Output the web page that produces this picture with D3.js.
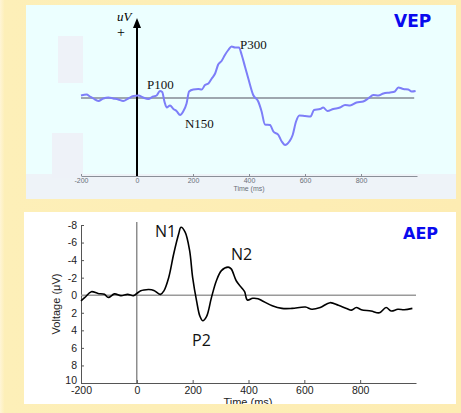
<!DOCTYPE html>
<html>
<head>
<meta charset="utf-8">
<script src="https://cdn.jsdelivr.net/npm/d3@7"></script>
<style>
  html, body { margin: 0; padding: 0; background: #fdefb8; }
  svg { display: block; }
</style>
</head>
<body>
<div id="chart"></div>
<script>
/* VEP trace (ms, arbitrary uV, positive up) */
const vepTime = [-200, -180, -168, -156, -138, -120, -102, -85, -67, -49, -31, -13, 5, 22, 40, 58, 70, 82, 90, 98, 106, 118, 130, 141, 154, 165, 177, 186, 201, 219, 231, 243, 255, 267, 279, 290, 302, 314, 326, 338, 350, 364, 374, 386, 398, 415, 433, 445, 457, 475, 487, 505, 517, 529, 544, 556, 568, 580, 600, 620, 632, 654, 665, 680, 701, 725, 743, 761, 784, 808, 826, 844, 862, 880, 904, 921, 933, 951, 969, 981, 995]
const vepValue = [0.5, 0.7, 0.3, -0.1, -0.6, -0.1, 0.1, -0.1, -0.3, -0.6, -0.1, 0.4, 0.5, 0.1, -0.2, 0.3, 0.5, 1.4, 1.2, -0.7, -1.9, -1.5, -2.2, -2.6, -3.4, -2.7, -1.1, 1.3, 1.7, 1.8, 1.7, 2.6, 2.9, 3.9, 4.9, 6.7, 7.4, 8.6, 9.6, 10.3, 10.1, 10.1, 8.6, 6.2, 3.8, 0.6, -0.7, -2.7, -5.3, -5.4, -6.7, -7.4, -8.7, -9.4, -8.7, -7.4, -4.7, -3.5, -3.6, -3.7, -2.4, -2.2, -1.9, -2.6, -2.2, -1.9, -1.4, -1.5, -0.9, -0.7, -0.1, 0.6, 0.5, 0.9, 1.1, 1.3, 2.1, 1.8, 1.7, 1.3, 1.4]
const vepPeaks = [
  { name: 'P100', t: 36, v: 1.8 },
  { name: 'N150', t: 171, v: -6 },
  { name: 'P300', t: 368, v: 9.8 }
]

/* AEP trace (ms, uV, negative up) */
const aepTime = [-200, -186, -163, -139, -116, -102, -80, -57, -33, -12, 0, 14, 26, 43, 61, 85, 97, 114, 132, 150, 158, 173, 189, 200, 214, 226, 236, 250, 267, 285, 303, 327, 338, 356, 374, 386, 396, 415, 434, 450, 485, 520, 556, 604, 627, 657, 692, 722, 751, 769, 786, 804, 839, 869, 893, 911, 935, 958, 987]
const aepValue = [0.65, 0.25, -0.4, -0.2, -0.1, 0.25, -0.15, 0.05, -0.1, 0.05, -0.2, -0.5, -0.6, -0.65, -0.55, -0.1, -0.5, -2.0, -4.7, -7.0, -7.75, -7.2, -5.1, -2.0, 0.65, 2.4, 2.9, 2.4, 0.3, -1.65, -2.8, -3.2, -3.0, -1.65, -0.9, -0.4, 0.55, 0.35, 0.4, 0.65, 1.2, 1.5, 1.5, 1.35, 1.6, 1.4, 0.85, 1.15, 1.5, 1.7, 1.4, 1.65, 1.8, 2.0, 1.4, 1.8, 1.6, 1.65, 1.5]
const aepPeaks = [
  { name: 'N1', t: 65, v: -6.6 },
  { name: 'N2', t: 337, v: -4.0 },
  { name: 'P2', t: 198, v: 5.8 }
]

const timeTicks = [-200, 0, 200, 400, 600, 800]
const voltTicks = [-8, -6, -4, -2, 0, 2, 4, 6, 8, 10]

const W = 461, H = 413

const svg = d3.select('#chart').append('svg')
  .attr('width', W)
  .attr('height', H)

/* Background */
const defs = svg.append('defs')
const grad = defs.append('linearGradient').attr('id', 'bg').attr('x1', 0).attr('x2', 1)
grad.append('stop').attr('offset', 0).attr('stop-color', '#fff5d6')
grad.append('stop').attr('offset', 0.01).attr('stop-color', '#fdefb8')
grad.append('stop').attr('offset', 1).attr('stop-color', '#fdecb2')
svg.append('rect').attr('width', W).attr('height', H).attr('fill', 'url(#bg)')

/* ---------- Top panel: VEP ---------- */
const vep = svg.append('g').attr('class', 'vep')
vep.append('rect').attr('x', 26).attr('y', 5).attr('width', 430).attr('height', 194).attr('fill', '#ecffff')
vep.append('rect').attr('x', 26).attr('y', 174).attr('width', 430).attr('height', 25).attr('fill', '#eef3f8')
vep.append('rect').attr('x', 58).attr('y', 36).attr('width', 25).attr('height', 47).attr('fill', '#eef2f8')
vep.append('rect').attr('x', 52).attr('y', 133).attr('width', 31).attr('height', 45).attr('fill', '#eef2f8')

const x1 = d3.scaleLinear().domain([-200, 1000]).range([81, 417])
const y1 = d3.scaleLinear().domain([-15.6, 16]).range([176, 18])

const xAxis1 = vep.append('g').attr('transform', `translate(0,${y1(-15.6)})`)
  .call(d3.axisBottom(x1).tickValues(timeTicks).tickFormat(d => String(d))
    .tickSizeInner(-2).tickSizeOuter(0).tickPadding(2))
xAxis1.select('.domain').attr('stroke', '#8a8f98')
xAxis1.selectAll('.tick line').attr('stroke', '#8a8f98')
xAxis1.selectAll('.tick text').attr('fill', '#6a6e78').attr('font-size', 7).attr('font-family', 'Liberation Sans, sans-serif')
vep.append('text')
  .attr('x', 249).attr('y', 191)
  .attr('text-anchor', 'middle')
  .attr('font-size', 7).attr('font-family', 'Liberation Sans, sans-serif').attr('fill', '#6a6e78')
  .text('Time (ms)')

/* baseline */
vep.append('line')
  .attr('x1', x1(-200)).attr('x2', x1(990))
  .attr('y1', y1(0)).attr('y2', y1(0))
  .attr('stroke', '#505060').attr('stroke-width', 1.2)

/* vertical arrow at t = 0 */
vep.append('line')
  .attr('x1', x1(0)).attr('x2', x1(0))
  .attr('y1', y1(-15.6)).attr('y2', y1(14))
  .attr('stroke', '#000').attr('stroke-width', 2)
vep.append('path')
  .attr('d', `M${x1(0)},${y1(16)}L${x1(0) - 4},${y1(14)}L${x1(0) + 4},${y1(14)}Z`)
  .attr('fill', '#000')
vep.append('text').attr('x', 117).attr('y', 21)
  .attr('font-family', 'Liberation Serif, serif').attr('font-style', 'italic').attr('font-size', 13)
  .text('uV')
vep.append('text').attr('x', 117).attr('y', 37)
  .attr('font-family', 'Liberation Serif, serif').attr('font-size', 14)
  .text('+')

const vepLine = d3.line()
  .x((d, i) => x1(vepTime[i]))
  .y(d => y1(d))
  .curve(d3.curveMonotoneX)
vep.append('path')
  .datum(vepValue)
  .attr('d', vepLine)
  .attr('fill', 'none')
  .attr('stroke', '#7d7ef8')
  .attr('stroke-width', 2)
  .attr('stroke-linejoin', 'round')

vep.selectAll('.peak').data(vepPeaks).join('text')
  .attr('class', 'peak')
  .attr('x', d => x1(d.t))
  .attr('y', d => y1(d.v))
  .attr('font-family', 'Liberation Serif, serif')
  .attr('font-size', 13)
  .attr('fill', '#111')
  .text(d => d.name)

vep.append('text').attr('x', 394).attr('y', 27)
  .attr('font-family', 'DejaVu Sans, sans-serif').attr('font-weight', 'bold').attr('font-size', 17)
  .attr('fill', '#0a0aee')
  .text('VEP')

/* ---------- Bottom panel: AEP ---------- */
const aep = svg.append('g').attr('class', 'aep')
defs.append('clipPath').attr('id', 'botclip')
  .append('rect').attr('x', 24).attr('y', 212).attr('width', 432).attr('height', 192)
aep.attr('clip-path', 'url(#botclip)')
aep.append('rect').attr('x', 24).attr('y', 212).attr('width', 432).attr('height', 192).attr('fill', '#ffffff')

const x2 = d3.scaleLinear().domain([-200, 1000]).range([81, 416])
const y2 = d3.scaleLinear().domain([-8, 10]).range([225, 383])

const axisFont = g => g.selectAll('.tick text')
  .attr('font-family', 'Liberation Sans, sans-serif').attr('font-size', 10.5).attr('fill', '#222')

const yAxis2 = aep.append('g').attr('transform', `translate(${x2(-200)},0)`)
  .call(d3.axisLeft(y2).tickValues(voltTicks).tickFormat(d => String(d))
    .tickSizeInner(-3).tickSizeOuter(0).tickPadding(4))
  .call(axisFont)
yAxis2.selectAll('.domain, .tick line').attr('stroke', '#555')
// the bottom label sits a touch high, as in the original, so it clears "-200"
yAxis2.selectAll('.tick text').filter(d => d === 10).attr('dy', '0.05em')

const xAxis2 = aep.append('g').attr('transform', `translate(0,${y2(10)})`)
  .call(d3.axisBottom(x2).tickValues(timeTicks).tickFormat(d => String(d))
    .tickSizeInner(-3).tickSizeOuter(0).tickPadding(4))
  .call(axisFont)
xAxis2.selectAll('.domain, .tick line').attr('stroke', '#555')

aep.append('text')
  .attr('x', 248).attr('y', 406)
  .attr('text-anchor', 'middle')
  .attr('font-family', 'Liberation Sans, sans-serif').attr('font-size', 11).attr('fill', '#222')
  .text('Time (ms)')
aep.append('text')
  .attr('transform', `translate(60,${(y2(-8) + y2(10)) / 2}) rotate(-90)`)
  .attr('text-anchor', 'middle')
  .attr('font-family', 'Liberation Sans, sans-serif').attr('font-size', 11).attr('fill', '#222')
  .text('Voltage (\u03BCV)')

/* zero lines */
aep.append('line')
  .attr('x1', x2(-200)).attr('x2', x2(1000))
  .attr('y1', y2(0)).attr('y2', y2(0))
  .attr('stroke', '#9a9a9a').attr('stroke-width', 1.5)
aep.append('line')
  .attr('x1', x2(0)).attr('x2', x2(0))
  .attr('y1', y2(-8) - 3).attr('y2', y2(10))
  .attr('stroke', '#555').attr('stroke-width', 1)

const aepLine = d3.line()
  .x((d, i) => x2(aepTime[i]))
  .y(d => y2(d))
  .curve(d3.curveCatmullRom)
aep.append('path')
  .datum(aepValue)
  .attr('d', aepLine)
  .attr('fill', 'none')
  .attr('stroke', '#000')
  .attr('stroke-width', 1.6)

aep.selectAll('.peak').data(aepPeaks).join('text')
  .attr('class', 'peak')
  .attr('x', d => x2(d.t))
  .attr('y', d => y2(d.v))
  .attr('font-family', 'Open Sans, sans-serif')
  .attr('font-size', 16)
  .attr('fill', '#111')
  .text(d => d.name)

aep.append('text').attr('x', 403).attr('y', 239)
  .attr('font-family', 'DejaVu Sans, sans-serif').attr('font-weight', 'bold').attr('font-size', 16)
  .attr('fill', '#0a0aee')
  .text('AEP')
</script>
</body>
</html>
